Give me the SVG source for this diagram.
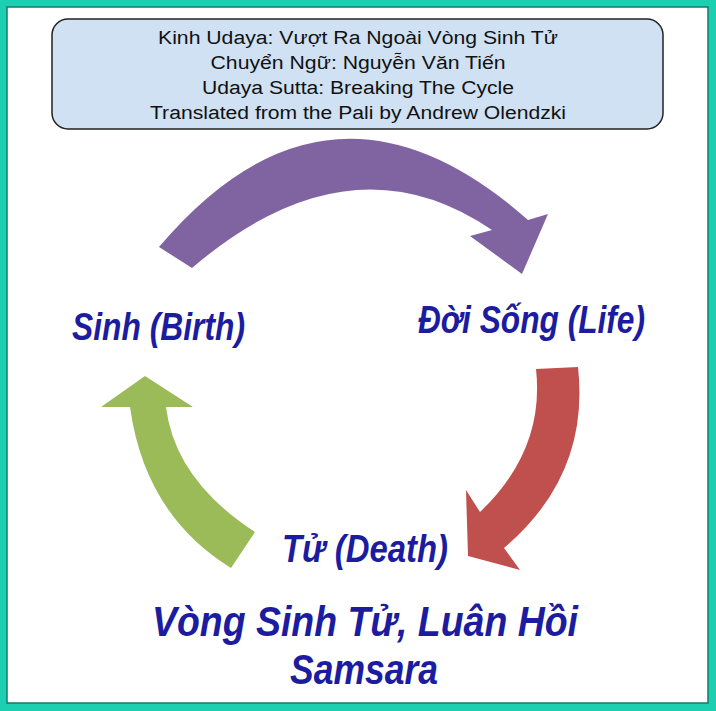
<svg xmlns="http://www.w3.org/2000/svg" width="716" height="711" viewBox="0 0 716 711">
<style>
.t{font-family:"Liberation Sans",Arial,sans-serif;font-size:18px;fill:#111;text-anchor:middle}
.l{font-family:"Liberation Sans",Arial,sans-serif;font-weight:bold;font-style:italic;fill:#1c1ca0}
</style>
<rect x="0" y="0" width="716" height="711" fill="#1ccfb0"/>
<rect x="7" y="7" width="701" height="696" fill="#fff" stroke="#0b7d6a" stroke-width="1.5"/>
<g id="title">
<rect x="52" y="19" width="611" height="110" rx="16" fill="#cfe1f3" stroke="#222" stroke-width="1.5"/>
<text class="t" x="358" y="44" textLength="400" lengthAdjust="spacingAndGlyphs">Kinh Udaya: Vượt Ra Ngoài Vòng Sinh Tử</text>
<text class="t" x="358" y="69" textLength="295" lengthAdjust="spacingAndGlyphs">Chuyển Ngữ: Nguyễn Văn Tiến</text>
<text class="t" x="358" y="94" textLength="312" lengthAdjust="spacingAndGlyphs">Udaya Sutta: Breaking The Cycle</text>
<text class="t" x="358" y="119" textLength="416" lengthAdjust="spacingAndGlyphs">Translated from the Pali by Andrew Olendzki</text>
</g>
<g id="connectors">
<path d="M159,247 Q330,45 528,220 L548,214 L522,274 L470,236 L492,230 Q350,133 192,268 Z" fill="#8064a2"/>
<path d="M536,369 L578,367 Q590,475 504,548 L520,570 L468,556 L466,490 L480,512 Q545,450 536,369 Z" fill="#c0504d"/>
<path d="M231,568 L255,532 Q175,480 166,407 L193,407 L145,376 L101,407 L130,407 Q145,515 231,568 Z" fill="#9bbb59"/>
</g>
<g id="birth"><text class="l" x="72" y="340" font-size="38" textLength="173" lengthAdjust="spacingAndGlyphs">Sinh (Birth)</text></g>
<g id="life"><text class="l" x="418" y="333" font-size="38" textLength="227" lengthAdjust="spacingAndGlyphs">Đời Sống (Life)</text></g>
<g id="death"><text class="l" x="282" y="562" font-size="38" textLength="166" lengthAdjust="spacingAndGlyphs">Tử (Death)</text></g>
<g id="samsara">
<text class="l" x="152" y="636" font-size="42" textLength="426" lengthAdjust="spacingAndGlyphs">Vòng Sinh Tử, Luân Hồi</text>
<text class="l" x="290" y="684" font-size="42" textLength="148" lengthAdjust="spacingAndGlyphs">Samsara</text>
</g>
</svg>
